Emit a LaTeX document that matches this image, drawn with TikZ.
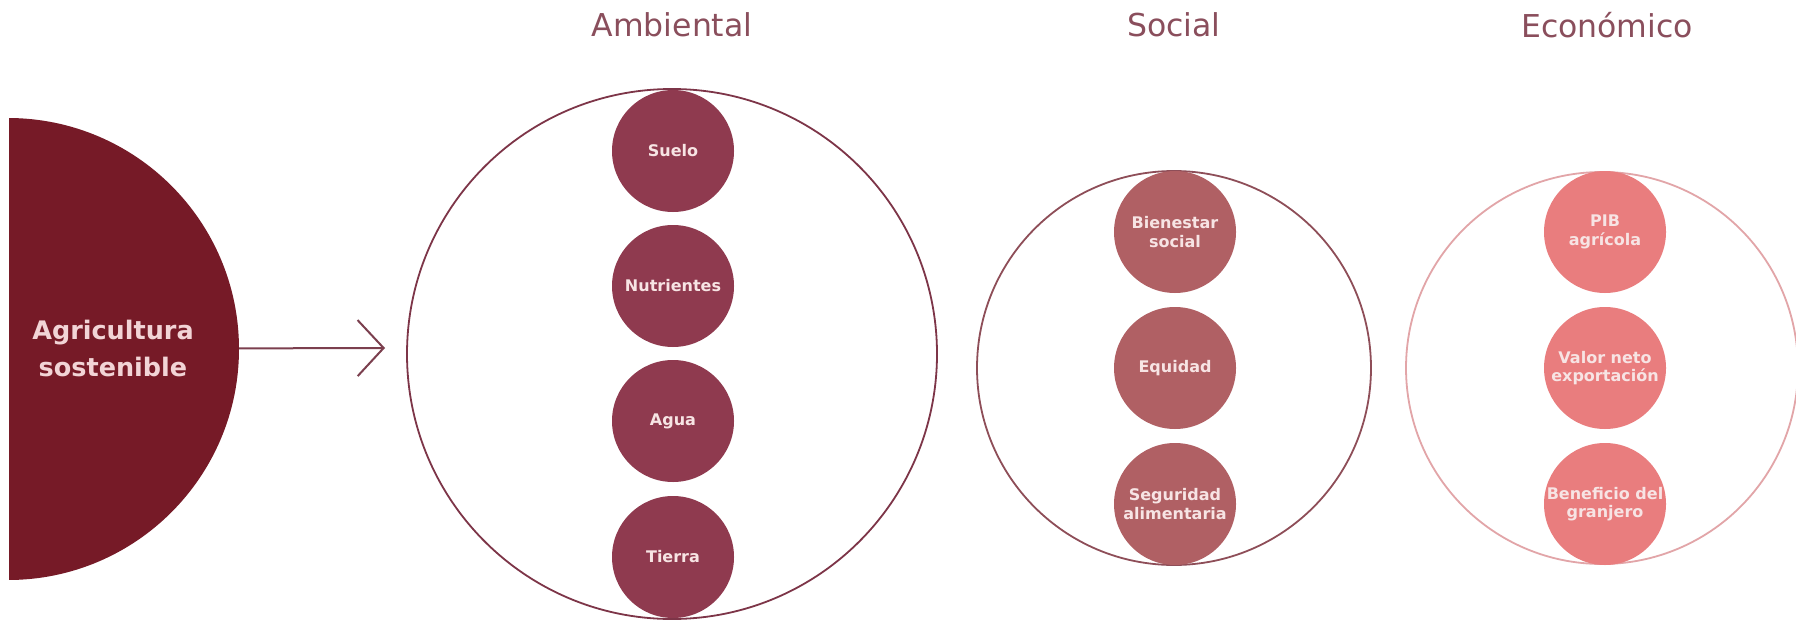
\documentclass[tikz,border=0pt]{standalone}
\usepackage{fontspec}
\setmainfont{DejaVu Sans}
\usetikzlibrary{arrows.meta}
\definecolor{agrifill}{HTML}{761A27}
\definecolor{agritext}{HTML}{F2D4D6}
\definecolor{arrowcol}{HTML}{7B3F4E}
\definecolor{titlecol}{HTML}{8A4E5C}
\definecolor{ambline}{HTML}{7D3548}
\definecolor{ambfill}{HTML}{8F3A4F}
\definecolor{socline}{HTML}{8E4E58}
\definecolor{socfill}{HTML}{B06064}
\definecolor{ecoline}{HTML}{E2A5A8}
\definecolor{ecofill}{HTML}{E97D7E}
\definecolor{smalltext}{HTML}{F7E4E4}
\begin{document}
\begin{tikzpicture}[x=1pt,y=-1pt,
  title/.style={text=titlecol,font=\fontsize{31.5}{38}\selectfont,inner sep=0pt},
  group/.style={circle,draw=#1,line width=1.8pt,inner sep=0pt},
  item/.style={circle,fill=#1,minimum size=122pt,inner sep=0pt,align=center,
    text=smalltext,font=\bfseries\fontsize{16}{18.5}\selectfont},
  arrowline/.style={draw=arrowcol,line width=2pt,-{Straight Barb[length=26pt,width=56pt,line width=2pt]}}]
\useasboundingbox (0,0) rectangle (1796,621);
\fill[white] (0,0) rectangle (1796,621);
% main circle
\begin{scope}
\clip (9,0) rectangle (1796,621);
\node[circle,fill=agrifill,minimum size=462pt,inner sep=0pt] (agri) at (8,349) {};
\end{scope}
\node[text=agritext,font=\bfseries\fontsize{25.5}{37}\selectfont,align=center,inner sep=0pt] (agrilabel) at (113,348) {Agricultura\\sostenible};
\coordinate (tip) at (385,348);
\draw[arrowline] (agri) -- (tip);
% titles
\node[title] (tamb) at (672,25) {Ambiental};
\node[title] (tsoc) at (1174,25) {Social};
\node[title] (teco) at (1607,25) {Económico};
% group outlines
\node[group=ambline,minimum size=530pt] (amb) at (672,354) {};
\node[group=socline,minimum size=394pt] (soc) at (1174,368) {};
\node[group=ecoline,minimum size=392pt] (eco) at (1602,368) {};
% ambiental items
\node[item=ambfill] (suelo) at (673,151) {Suelo};
\node[item=ambfill] (nutri) at (673,286) {Nutrientes};
\node[item=ambfill] (agua) at (673,421) {Agua};
\node[item=ambfill] (tierra) at (673,557) {Tierra};
% social items
\node[item=socfill] (bien) at (1175,232) {Bienestar\\social};
\node[item=socfill] (equi) at (1175,368) {Equidad};
\node[item=socfill] (segu) at (1175,504) {Seguridad\\alimentaria};
% economico items
\node[item=ecofill] (pib) at (1605,232) {PIB\\agrícola};
\node[item=ecofill] (valor) at (1605,368) {Valor neto\\exportación};
\node[item=ecofill] (bene) at (1605,504) {Beneficio del\\granjero};
\end{tikzpicture}
\end{document}
